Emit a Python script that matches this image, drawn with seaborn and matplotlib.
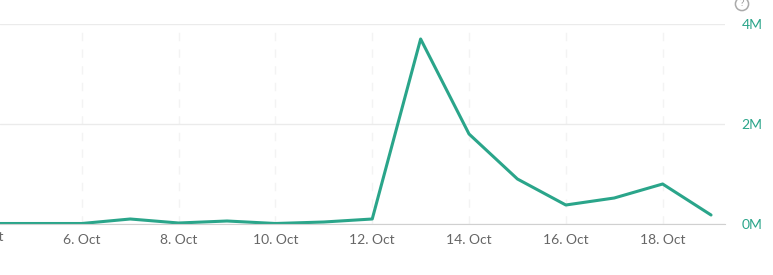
import matplotlib
matplotlib.use("Agg")
import matplotlib.pyplot as plt
import seaborn as sns
import pandas as pd
from matplotlib.transforms import blended_transform_factory

# Data (day of October -> value in millions)
days = [4, 5, 6, 7, 8, 9, 10, 11, 12, 13, 14, 15, 16, 17, 18, 19]
values_m = [0.01, 0.01, 0.01, 0.10, 0.02, 0.06, 0.01, 0.04, 0.10, 3.70, 1.80, 0.90, 0.38, 0.52, 0.80, 0.18]
tick_days = [4, 6, 8, 10, 12, 14, 16, 18]
tick_labels = ["4. Oct", "6. Oct", "8. Oct", "10. Oct", "12. Oct", "14. Oct", "16. Oct", "18. Oct"]
y_ticks = [0, 2, 4]
y_labels = ["0M", "2M", "4M"]

df = pd.DataFrame({"day": days, "value": values_m})

sns.set_style("white")
plt.rcParams['font.family'] = ['Lato', 'DejaVu Sans']

line_color = "#2aa58a"
fig = plt.figure(figsize=(7.73, 2.75), dpi=100)
ax = fig.add_axes([0.0, 1 - 224 / 275, 725 / 773, 200 / 275])

sns.lineplot(data=df, x="day", y="value", ax=ax, color=line_color, linewidth=2.2)

px_per_day = 48.5
ax.set_xlim(6 - 82 / px_per_day, 19 + 14 / px_per_day)
ax.set_ylim(0, 4)

vis_ticks = [d for d in tick_days if d >= ax.get_xlim()[0]]
vis_labels = [l for d, l in zip(tick_days, tick_labels) if d >= ax.get_xlim()[0]]
ax.set_xticks(vis_ticks)
ax.set_xticklabels(vis_labels)
ax.set_yticks(y_ticks)
ax.set_yticklabels(y_labels)
ax.yaxis.tick_right()
ax.tick_params(axis="y", length=0, pad=12, labelsize=10, labelcolor=line_color)
ax.tick_params(axis="x", length=4, width=1, color="#d5d5d5", pad=3, labelsize=10, labelcolor="#666666")

# partially visible first label (cut by the left edge, as in the original)
trans = blended_transform_factory(ax.transData, ax.transAxes)
ax.text(tick_days[0], -0.035, tick_labels[0], transform=trans, ha="center", va="top",
        fontsize=10, color="#666666", clip_on=False)

ax.grid(axis="y", color="#ebebeb", linewidth=1)
ax.grid(axis="x", color="#f3f3f3", linewidth=1, linestyle=(0, (6, 6)))
for s in ["top", "left", "right"]:
    ax.spines[s].set_visible(False)
ax.spines["bottom"].set_color("#d0d0d0")
ax.set_xlabel("")
ax.set_ylabel("")

# help icon
fig.text(742 / 773, 1 - 4 / 275, "?", ha="center", va="center", fontsize=7.5, color="#999999",
         bbox=dict(boxstyle="circle,pad=0.2", fc="white", ec="#aaaaaa", lw=1.1))

fig.savefig("out.png", dpi=100)
